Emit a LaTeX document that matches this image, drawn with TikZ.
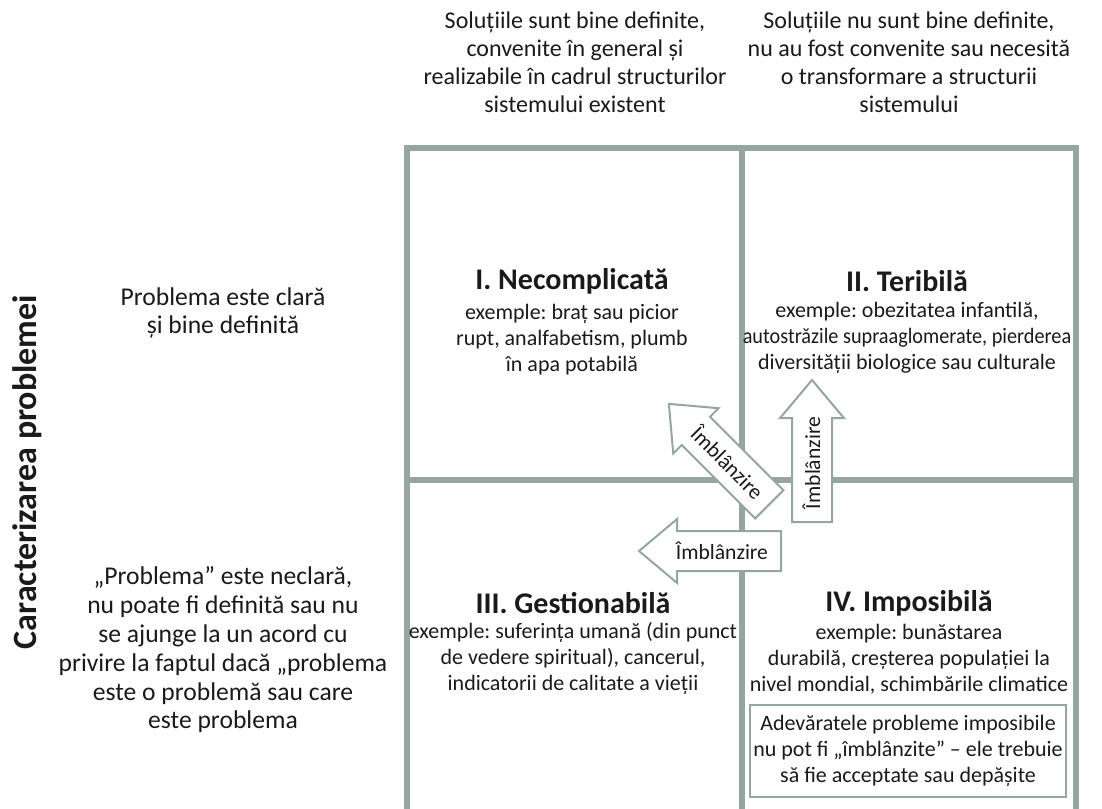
\documentclass[tikz,border=0pt]{standalone}
\usepackage{fontspec}
\setmainfont{Carlito}
\usetikzlibrary{shapes.arrows,positioning}
\definecolor{gridgray}{HTML}{95A5A2}
\definecolor{inkblack}{HTML}{1A1A1A}
\frenchspacing

\begin{document}
\begin{tikzpicture}[x=0.5pt,y=-0.5pt,
  every node/.style={text=inkblack},
  lbl/.style={align=center,font=\fontsize{12}{14}\selectfont},
  sidelbl/.style={align=center,font=\fontsize{12.8}{14.4}\selectfont},
  qtitle/.style={font=\bfseries\fontsize{15}{17}\selectfont,inner sep=0pt},
  qtext/.style={align=center,font=\fontsize{11}{13}\selectfont,inner sep=0pt},
  tame/.style={shape=single arrow,draw=gridgray,line width=1pt,fill=white,
    single arrow head extend=6pt,single arrow tip angle=80,
    minimum width=31pt,minimum height=71pt,inner xsep=1pt,inner ysep=4pt,
    text height=9.5pt,text depth=1.5pt,
    font=\fontsize{10.8}{12}\selectfont,anchor=tail}]
\useasboundingbox (0,0) rectangle (1102,808);
% grid
\draw [gridgray,line width=3pt] (407,830) -- (407,148) -- (1076,148) -- (1076,830);
\draw [gridgray,line width=3pt] (742,148) -- (742,830);
\draw [gridgray,line width=3pt] (407,480) -- (1076,480);
% column heads
\node [lbl] (colA) at (575,62) {Soluțiile sunt bine definite,\\convenite în general și\\realizabile în cadrul structurilor\\sistemului existent};
\node [lbl] (colB) at (909,62) {Soluțiile nu sunt bine definite,\\nu au fost convenite sau necesită\\o transformare a structurii\\sistemului};
% row heads
\node [rotate=90,font=\bfseries\fontsize{17}{20}\selectfont] (axis) at (27,472) {Caracterizarea problemei};
\node [sidelbl] (rowA) at (223,313) {Problema este clară\\și bine definită};
\node [sidelbl] (rowB) at (223,650) {„Problema” este neclară,\\nu poate fi definită sau nu\\se ajunge la un acord cu\\privire la faptul dacă „problema\\este o problemă sau care\\este problema};
% quadrants
\node [qtitle] (tI) at (572,281) {I. Necomplicată};
\node [qtext,below=5pt of tI] (eI) {exemple: braț sau picior\\rupt, analfabetism, plumb\\în apa potabilă};
\node [qtitle] (tII) at (907,281) {II. Teribilă};
\node [qtext,below=5pt of tII] (eII) {exemple: obezitatea infantilă,\\\scalebox{0.92}[1]{autostrăzile supraaglomerate, pierderea}\\diversității biologice sau culturale};
\node [qtitle] (tIII) at (573,603) {III. Gestionabilă};
\node [qtext,below=4pt of tIII] (eIII) {exemple: suferința umană (din punct\\de vedere spiritual), cancerul,\\indicatorii de calitate a vieții};
\node [qtitle] (tIV) at (909,603) {IV. Imposibilă};
\node [qtext,below=4pt of tIV] (eIV) {exemple: bunăstarea\\durabilă, creșterea populației la\\nivel mondial, schimbările climatice};
\node [qtext,draw=gridgray,line width=1pt,minimum width=158pt,minimum height=46pt] (note) at (908,751) {Adevăratele probleme imposibile\\nu pot fi „îmblânzite” – ele trebuie\\să fie acceptate sau depășite};
% arrows
\node [tame,shape border rotate=180,rotate=-45] (tame1) at (770,505) {Îmblânzire};
\node [tame,rotate=90] (tame2) at (812,523) {Îmblânzire};
\node [tame,shape border rotate=180] (tame3) at (782,551) {Îmblânzire};
\end{tikzpicture}
\end{document}
